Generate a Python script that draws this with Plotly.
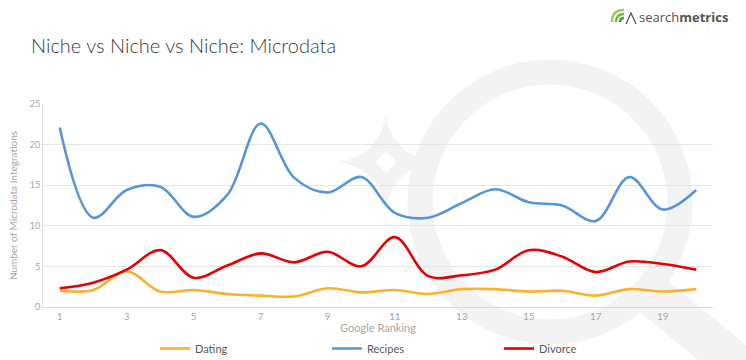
import plotly.graph_objects as go

ranks = list(range(1, 21))
dating = [2.0, 2.1, 4.4, 1.9, 2.1, 1.6, 1.4, 1.3, 2.3, 1.8, 2.1, 1.6, 2.2, 2.2, 1.9, 2.0, 1.4, 2.2, 1.9, 2.2]
recipes = [22.1, 11.0, 14.4, 14.8, 11.1, 13.8, 22.6, 15.9, 14.1, 16.0, 11.6, 11.0, 12.8, 14.5, 12.9, 12.5, 10.6, 16.0, 12.0, 14.4]
divorce = [2.3, 3.0, 4.6, 7.0, 3.6, 5.1, 6.6, 5.5, 6.8, 5.0, 8.6, 3.8, 3.9, 4.6, 7.0, 6.2, 4.3, 5.6, 5.3, 4.6]
series_names = ["Dating", "Recipes", "Divorce"]
series_colors = ["#fbb12b", "#5596da", "#e80000"]
x_tick_vals = [1, 3, 5, 7, 9, 11, 13, 15, 17, 19]
y_tick_vals = [0, 5, 10, 15, 20, 25]

W, H = 746, 360
ML, MR, MT, MB = 43, 33, 104, 53
PW, PH = W - ML - MR, H - MT - MB
WM = "#f3f3f3"


def px(x):
    return (x - ML) / PW


def py(y):
    return (H - MB - y) / PH


fig = go.Figure()
for name, vals, col in zip(series_names, [dating, recipes, divorce], series_colors):
    fig.add_trace(go.Scatter(
        x=ranks, y=vals, name=name, mode="lines",
        line=dict(color=col, width=2.6, shape="spline", smoothing=1.0),
    ))

shapes = []
# watermark handle
shapes.append(dict(type="line", xref="paper", yref="paper", layer="below",
                   x0=px(640), y0=py(285), x1=px(780), y1=py(400),
                   line=dict(color=WM, width=42)))
# watermark ring
cx, cy, r = 550, 202, 130
shapes.append(dict(type="circle", xref="paper", yref="paper", layer="below",
                   x0=px(cx - r), x1=px(cx + r), y0=py(cy + r), y1=py(cy - r),
                   line=dict(color=WM, width=25)))
# watermark star
sx, sy = 386, 162
star = (f"M {px(sx)},{py(sy-47)} Q {px(sx+6)},{py(sy-8)} {px(sx+46)},{py(sy)} "
        f"Q {px(sx+6)},{py(sy+8)} {px(sx)},{py(sy+47)} "
        f"Q {px(sx-6)},{py(sy+8)} {px(sx-46)},{py(sy)} "
        f"Q {px(sx-6)},{py(sy-8)} {px(sx)},{py(sy-47)} Z")
shapes.append(dict(type="path", xref="paper", yref="paper", layer="below", path=star,
                   fillcolor=WM, line=dict(width=0)))
hole = (f"M {px(sx)},{py(sy-11)} L {px(sx+11)},{py(sy)} L {px(sx)},{py(sy+11)} "
        f"L {px(sx-11)},{py(sy)} Z")
shapes.append(dict(type="path", xref="paper", yref="paper", layer="below", path=hole,
                   fillcolor="#ffffff", line=dict(width=0)))
# logo icon (green arcs)
for rr, c in [(12, "#9ccc5a"), (8, "#7ab83a"), (4, "#5a9a22")]:
    lx, ly = 624, 22
    shapes.append(dict(type="path", xref="paper", yref="paper",
                       path=f"M {px(lx-rr)},{py(ly)} Q {px(lx-rr)},{py(ly-rr)} {px(lx)},{py(ly-rr)}",
                       line=dict(color=c, width=2.5)))
shapes.append(dict(type="path", xref="paper", yref="paper",
                   path=f"M {px(626)},{py(24)} L {px(631)},{py(13)} L {px(636)},{py(24)}",
                   line=dict(color="#555555", width=1.3)))

fig.update_layout(
    width=W, height=H,
    margin=dict(l=ML, r=MR, t=MT, b=MB, autoexpand=False),
    paper_bgcolor="white", plot_bgcolor="rgba(0,0,0,0)",
    font=dict(family="Lato", color="#a6a6a6", size=10),
    shapes=shapes,
    showlegend=True,
    legend=dict(orientation="h", xref="container", yref="container",
                x=155 / W, xanchor="left", y=1 - 334 / H, yanchor="top",
                entrywidth=127, entrywidthmode="pixels", itemwidth=30,
                font=dict(family="Lato", size=11, color="#595959"), bgcolor="rgba(0,0,0,0)"),
    xaxis=dict(range=[0.5, 20.5], tickvals=x_tick_vals, showgrid=False, zeroline=False,
               showline=True, linecolor="#d9d9d9", linewidth=1, ticks="", automargin=False,
               tickfont=dict(family="Lato", size=10, color="#a6a6a6"),
               title=dict(text="Google Ranking", standoff=2,
                          font=dict(family="Lato", size=11, color="#a6a6a6"))),
    yaxis=dict(range=[0, 25], tickvals=y_tick_vals, showgrid=True, gridcolor="#e6e6e6",
               gridwidth=1, zeroline=False, showline=True, linecolor="#e0e0e0", ticks="",
               automargin=False,
               tickfont=dict(family="Lato", size=9, color="#a6a6a6"),
               title=dict(text="Number of Microdata Integrations", standoff=10,
                          font=dict(family="Lato", size=10, color="#a6a6a6"))),
    annotations=[
        dict(text="Niche vs Niche vs Niche: Microdata", xref="paper", yref="paper",
             x=px(29), y=py(45), xanchor="left", yanchor="middle", showarrow=False,
             font=dict(family="Lato", size=20, color="#3a3a3a", weight=300)),
        dict(text="search<b>metrics</b>", xref="paper", yref="paper",
             x=px(637), y=py(17), xanchor="left", yanchor="middle", showarrow=False,
             font=dict(family="Open Sans", size=13, color="#555555")),
    ],
)

fig.write_html("out.html", config={"displayModeBar": False},
               post_script="document.body.style.margin='0';")
